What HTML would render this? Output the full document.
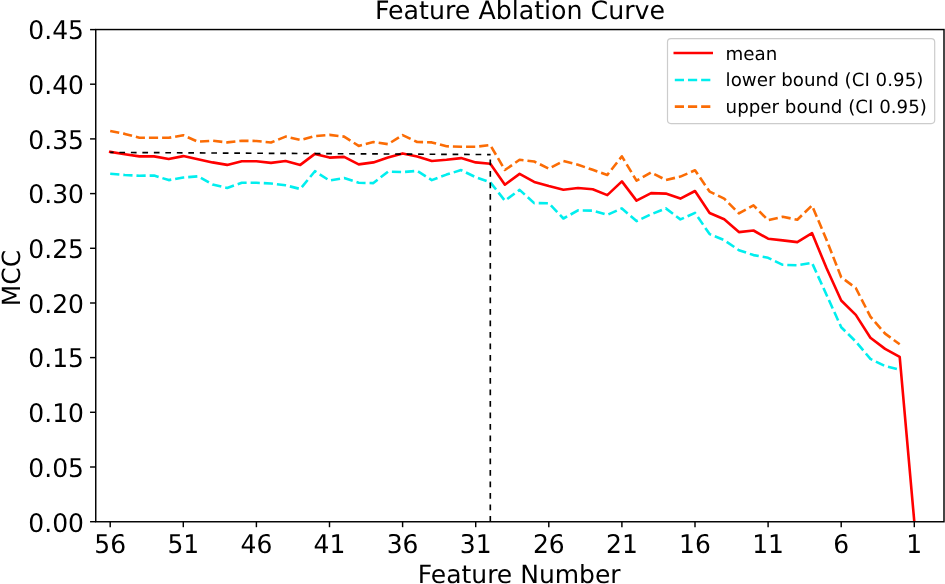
<!DOCTYPE html>
<html><head><meta charset="utf-8"><title>Feature Ablation Curve</title>
<style>
html,body{margin:0;padding:0;background:#fff;overflow:hidden}
svg{display:block}
text{font-family:'DejaVu Sans','Liberation Sans',sans-serif;fill:#000;text-rendering:geometricPrecision}
</style></head><body>
<svg width="945" height="584" viewBox="0 0 945 584">
<rect x="0" y="0" width="945" height="584" fill="#ffffff"/>
<text x="520.0" y="19" font-size="25.25" text-anchor="middle">Feature Ablation Curve</text>
<text x="519.2" y="583.0" font-size="25" text-anchor="middle">Feature Number</text>
<text transform="translate(19.6,278.1) rotate(-90)" font-size="25" text-anchor="middle">MCC</text>
<line x1="90.05" x2="95.75" y1="521.7" y2="521.7" stroke="#000" stroke-width="1.45"/><text transform="translate(84.0,531.5) scale(1,1.03)" font-size="25" text-anchor="end">0.00</text>
<line x1="90.05" x2="95.75" y1="467.0" y2="467.0" stroke="#000" stroke-width="1.45"/><text transform="translate(84.0,476.8) scale(1,1.03)" font-size="25" text-anchor="end">0.05</text>
<line x1="90.05" x2="95.75" y1="412.3" y2="412.3" stroke="#000" stroke-width="1.45"/><text transform="translate(84.0,422.1) scale(1,1.03)" font-size="25" text-anchor="end">0.10</text>
<line x1="90.05" x2="95.75" y1="357.6" y2="357.6" stroke="#000" stroke-width="1.45"/><text transform="translate(84.0,367.4) scale(1,1.03)" font-size="25" text-anchor="end">0.15</text>
<line x1="90.05" x2="95.75" y1="303.0" y2="303.0" stroke="#000" stroke-width="1.45"/><text transform="translate(84.0,312.8) scale(1,1.03)" font-size="25" text-anchor="end">0.20</text>
<line x1="90.05" x2="95.75" y1="248.3" y2="248.3" stroke="#000" stroke-width="1.45"/><text transform="translate(84.0,258.1) scale(1,1.03)" font-size="25" text-anchor="end">0.25</text>
<line x1="90.05" x2="95.75" y1="193.6" y2="193.6" stroke="#000" stroke-width="1.45"/><text transform="translate(84.0,203.4) scale(1,1.03)" font-size="25" text-anchor="end">0.30</text>
<line x1="90.05" x2="95.75" y1="138.9" y2="138.9" stroke="#000" stroke-width="1.45"/><text transform="translate(84.0,148.7) scale(1,1.03)" font-size="25" text-anchor="end">0.35</text>
<line x1="90.05" x2="95.75" y1="84.2" y2="84.2" stroke="#000" stroke-width="1.45"/><text transform="translate(84.0,94.0) scale(1,1.03)" font-size="25" text-anchor="end">0.40</text>
<line x1="90.05" x2="95.75" y1="29.6" y2="29.6" stroke="#000" stroke-width="1.45"/><text transform="translate(84.0,39.4) scale(1,1.03)" font-size="25" text-anchor="end">0.45</text>
<line x1="110.2" x2="110.2" y1="521.7" y2="527.2" stroke="#000" stroke-width="1.45"/><text transform="translate(110.2,552.9) scale(1,1.03)" font-size="25" text-anchor="middle">56</text>
<line x1="183.3" x2="183.3" y1="521.7" y2="527.2" stroke="#000" stroke-width="1.45"/><text transform="translate(183.3,552.9) scale(1,1.03)" font-size="25" text-anchor="middle">51</text>
<line x1="256.4" x2="256.4" y1="521.7" y2="527.2" stroke="#000" stroke-width="1.45"/><text transform="translate(256.4,552.9) scale(1,1.03)" font-size="25" text-anchor="middle">46</text>
<line x1="329.5" x2="329.5" y1="521.7" y2="527.2" stroke="#000" stroke-width="1.45"/><text transform="translate(329.5,552.9) scale(1,1.03)" font-size="25" text-anchor="middle">41</text>
<line x1="402.6" x2="402.6" y1="521.7" y2="527.2" stroke="#000" stroke-width="1.45"/><text transform="translate(402.6,552.9) scale(1,1.03)" font-size="25" text-anchor="middle">36</text>
<line x1="475.7" x2="475.7" y1="521.7" y2="527.2" stroke="#000" stroke-width="1.45"/><text transform="translate(475.7,552.9) scale(1,1.03)" font-size="25" text-anchor="middle">31</text>
<line x1="548.8" x2="548.8" y1="521.7" y2="527.2" stroke="#000" stroke-width="1.45"/><text transform="translate(548.8,552.9) scale(1,1.03)" font-size="25" text-anchor="middle">26</text>
<line x1="621.9" x2="621.9" y1="521.7" y2="527.2" stroke="#000" stroke-width="1.45"/><text transform="translate(621.9,552.9) scale(1,1.03)" font-size="25" text-anchor="middle">21</text>
<line x1="695.0" x2="695.0" y1="521.7" y2="527.2" stroke="#000" stroke-width="1.45"/><text transform="translate(695.0,552.9) scale(1,1.03)" font-size="25" text-anchor="middle">16</text>
<line x1="768.1" x2="768.1" y1="521.7" y2="527.2" stroke="#000" stroke-width="1.45"/><text transform="translate(768.1,552.9) scale(1,1.03)" font-size="25" text-anchor="middle">11</text>
<line x1="841.2" x2="841.2" y1="521.7" y2="527.2" stroke="#000" stroke-width="1.45"/><text transform="translate(841.2,552.9) scale(1,1.03)" font-size="25" text-anchor="middle">6</text>
<line x1="914.3" x2="914.3" y1="521.7" y2="527.2" stroke="#000" stroke-width="1.45"/><text transform="translate(914.3,552.9) scale(1,1.03)" font-size="25" text-anchor="middle">1</text>
<defs><clipPath id="axclip"><rect x="95.75" y="29.55" width="848.25" height="492.15"/></clipPath></defs>
<g clip-path="url(#axclip)">
<polyline fill="none" stroke="#fb6c05" stroke-width="2.6" stroke-dasharray="9.2,3.97" stroke-linejoin="round" points="110.2,131.0 124.8,133.9 139.4,137.8 154.1,137.8 168.7,137.8 183.3,135.3 197.9,141.7 212.5,140.7 227.2,142.4 241.8,140.7 256.4,141.0 271.0,142.5 285.6,136.6 300.3,140.0 314.9,136.1 329.5,134.9 344.1,136.6 358.7,145.9 373.4,142.0 388.0,144.2 402.6,135.1 417.2,142.0 431.8,142.4 446.5,146.3 461.1,146.8 475.7,146.8 490.3,145.1 504.9,170.0 519.6,159.8 534.2,161.5 548.8,168.6 563.4,161.0 578.0,164.7 592.7,169.8 607.3,174.9 621.9,156.3 636.5,180.7 651.1,172.4 665.8,180.0 680.4,176.6 695.0,170.3 709.6,191.6 724.2,198.6 738.9,213.4 753.5,205.4 768.1,220.2 782.7,216.8 797.3,219.7 812.0,205.4 826.6,240.0 841.2,277.2 855.8,288.0 870.4,316.6 885.1,333.6 899.7,344.3"/>
<polyline fill="none" stroke="#00eeee" stroke-width="2.6" stroke-dasharray="9.2,3.97" stroke-linejoin="round" points="110.2,173.8 124.8,175.0 139.4,175.8 154.1,175.5 168.7,180.1 183.3,177.5 197.9,176.3 212.5,184.5 227.2,187.9 241.8,182.8 256.4,182.8 271.0,183.5 285.6,185.3 300.3,189.0 314.9,171.2 329.5,180.6 344.1,178.0 358.7,182.8 373.4,183.1 388.0,171.6 402.6,172.1 417.2,170.9 431.8,180.1 446.5,174.6 461.1,170.1 475.7,177.2 490.3,182.3 504.9,200.7 519.6,189.9 534.2,203.1 548.8,203.2 563.4,218.5 578.0,210.4 592.7,210.6 607.3,214.8 621.9,208.4 636.5,221.1 651.1,214.3 665.8,208.4 680.4,219.4 695.0,212.9 709.6,234.1 724.2,240.1 738.9,250.2 753.5,255.1 768.1,257.8 782.7,264.8 797.3,265.3 812.0,262.8 826.6,295.0 841.2,327.2 855.8,341.6 870.4,358.9 885.1,366.0 899.7,369.6"/>
<polyline fill="none" stroke="#ff0000" stroke-width="2.6" stroke-linejoin="round" stroke-linecap="square" points="110.2,151.9 124.8,154.2 139.4,156.4 154.1,156.4 168.7,159.0 183.3,156.1 197.9,159.3 212.5,162.4 227.2,164.9 241.8,161.2 256.4,161.3 271.0,162.9 285.6,161.0 300.3,164.9 314.9,153.9 329.5,157.6 344.1,156.9 358.7,164.4 373.4,162.4 388.0,157.6 402.6,153.4 417.2,156.4 431.8,161.0 446.5,159.8 461.1,158.1 475.7,162.4 490.3,163.7 504.9,184.7 519.6,173.9 534.2,181.9 548.8,186.0 563.4,189.7 578.0,188.0 592.7,189.3 607.3,195.1 621.9,181.4 636.5,200.6 651.1,193.1 665.8,193.6 680.4,198.6 695.0,191.0 709.6,213.0 724.2,219.3 738.9,232.1 753.5,230.5 768.1,238.7 782.7,240.4 797.3,242.1 812.0,233.1 826.6,268.3 841.2,300.5 855.8,314.9 870.4,337.7 885.1,348.9 899.7,356.8 914.3,521.7"/>
<line x1="110.2" y1="152.4" x2="490.6" y2="154.6" stroke="#000" stroke-width="1.65" stroke-dasharray="5.7,5.79" stroke-dashoffset="2.3"/>
<line x1="490.3" y1="521.7" x2="490.3" y2="154.6" stroke="#000" stroke-width="1.65" stroke-dasharray="5.7,5.8"/>
</g>
<rect x="95.75" y="29.55" width="848.25" height="492.2" fill="none" stroke="#000" stroke-width="1.45"/>
<rect x="667.5" y="38.6" width="267.2" height="85" rx="3.5" ry="3.5" fill="#ffffff" fill-opacity="0.8" stroke="#cccccc" stroke-width="1.2"/>
<line x1="674.8" x2="711.7" y1="53.0" y2="53.0" stroke="#ff0000" stroke-width="2.6" stroke-linecap="square"/>
<line x1="674.8" x2="711.7" y1="80.0" y2="80.0" stroke="#00eeee" stroke-width="2.6" stroke-dasharray="9.2,3.97"/>
<line x1="674.8" x2="711.7" y1="106.6" y2="106.6" stroke="#fb6c05" stroke-width="2.6" stroke-dasharray="9.2,3.97"/>
<text x="725.6" y="59.5" font-size="18.25">mean</text>
<text x="725.6" y="86.0" font-size="18.25">lower bound (CI 0.95)</text>
<text x="725.6" y="112.5" font-size="18.25">upper bound (CI 0.95)</text>
</svg>
</body></html>
